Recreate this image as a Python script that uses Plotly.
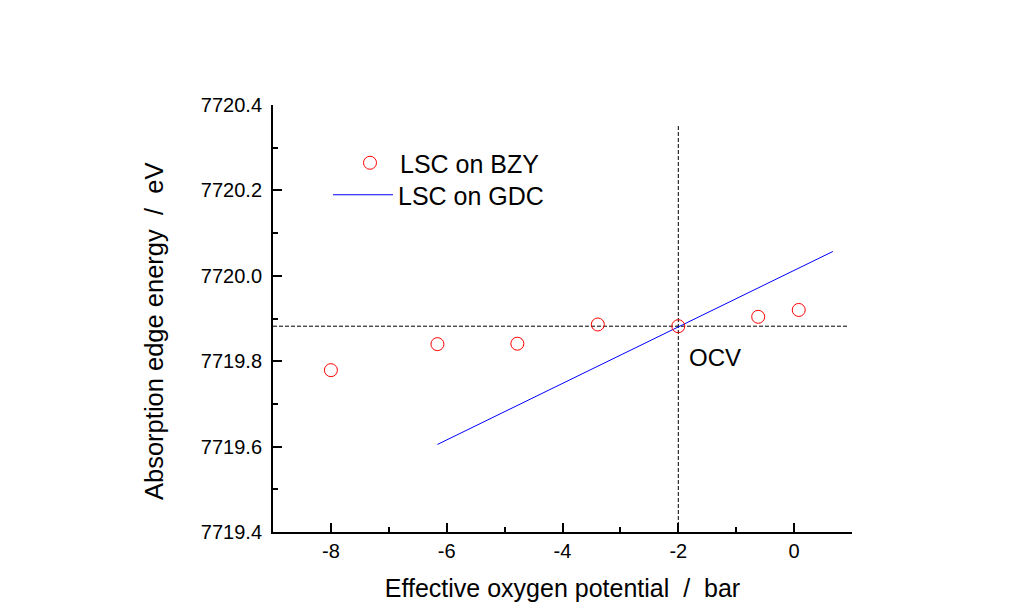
import plotly.graph_objects as go

# Data
bzy_x = [-8.0, -6.16, -4.78, -3.39, -2.0, -0.62, 0.08]
bzy_y = [7719.779, 7719.840, 7719.841, 7719.886, 7719.882, 7719.904, 7719.920]
gdc_x = [-6.16, 0.67]
gdc_y = [7719.605, 7720.057]
ocv_x = -2.0
ocv_y = 7719.882
hline_x = [-9.0, 0.92]
vline_y = [7719.4, 7720.351]

x_ticks = [-8, -6, -4, -2, 0]
y_ticks = [7719.4, 7719.6, 7719.8, 7720.0, 7720.2, 7720.4]

FONT = "Liberation Sans, Arial, sans-serif"
NB = "\u00a0"

fig = go.Figure()

# reference dashed lines
fig.add_trace(go.Scatter(x=hline_x, y=[ocv_y, ocv_y], mode="lines",
                         line=dict(color="black", width=1, dash="4px,2px"),
                         showlegend=False, hoverinfo="skip"))
fig.add_trace(go.Scatter(x=[ocv_x, ocv_x], y=vline_y, mode="lines",
                         line=dict(color="black", width=1, dash="4px,2px"),
                         showlegend=False, hoverinfo="skip"))

fig.add_trace(go.Scatter(x=gdc_x, y=gdc_y, mode="lines", name="LSC on GDC",
                         line=dict(color="#0000ff", width=1), legend="legend2"))
fig.add_trace(go.Scatter(x=bzy_x, y=bzy_y, mode="markers", name="LSC on BZY",
                         marker=dict(symbol="circle-open", size=13,
                                     color="#ff0000", line=dict(width=1)),
                         legend="legend"))

fig.add_annotation(x=ocv_x, y=ocv_y, xref="x", yref="y", text="OCV",
                   showarrow=False, xanchor="left", yanchor="middle",
                   xshift=9, yshift=-31,
                   font=dict(family=FONT, size=24, color="black"))

# y-axis title (placed as annotation to match its offset in the reference)
fig.add_annotation(x=(154 - 273) / 579, y=1 - (332 - 105) / 427,
                   xref="paper", yref="paper", textangle=-90,
                   text=f"Absorption edge energy{NB}{NB}/{NB}{NB}eV",
                   showarrow=False, xanchor="center", yanchor="middle",
                   font=dict(family=FONT, size=25.5, color="black"))

axis_common = dict(showline=True, linecolor="black", linewidth=2,
                   ticks="inside", tickcolor="black", tickwidth=2, ticklen=9,
                   showgrid=False, zeroline=False, mirror=False,
                   tickfont=dict(family=FONT, size=20, color="black"))

fig.update_xaxes(range=[-9, 1], tickvals=x_ticks,
                 ticktext=[f"{v}" for v in x_ticks],
                 ticklabelstandoff=0,
                 minor=dict(dtick=1, tick0=-9, ticks="inside", ticklen=5,
                            tickwidth=2, tickcolor="black"),
                 title=dict(text=f"Effective oxygen potential{NB}{NB}/{NB}{NB}bar",
                            font=dict(family=FONT, size=25, color="black"),
                            standoff=18),
                 **axis_common)
fig.update_yaxes(range=[7719.4, 7720.4], tickvals=y_ticks,
                 ticktext=[f"{v:.1f}" for v in y_ticks],
                 ticklabelstandoff=5,
                 minor=dict(dtick=0.1, tick0=7719.4, ticks="inside", ticklen=5,
                            tickwidth=2, tickcolor="black"),
                 **axis_common)

legend_common = dict(bgcolor="rgba(0,0,0,0)", borderwidth=0,
                     font=dict(family=FONT, size=25, color="black"),
                     xanchor="left", yanchor="middle")
fig.update_layout(
    width=1012, height=608,
    margin=dict(l=265, r=168, t=97, b=84),
    plot_bgcolor="white", paper_bgcolor="white",
    font=dict(family=FONT, color="black"),
    legend=dict(x=(340 - 273) / 579, y=1 - (163 - 105) / 427, itemwidth=50,
                **legend_common),
    legend2=dict(x=(328 - 273) / 579, y=1 - (195 - 105) / 427, itemwidth=60,
                 **legend_common),
)

fig.write_html("out.html")
